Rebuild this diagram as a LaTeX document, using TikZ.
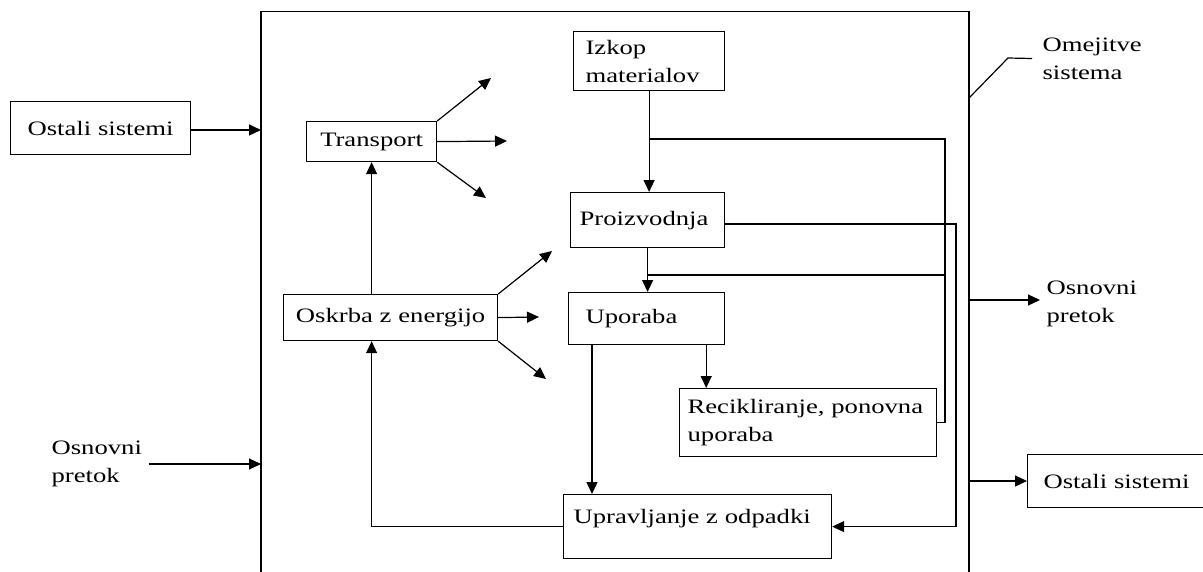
\documentclass[tikz,border=0pt]{standalone}
\usepackage{fontspec}
\setmainfont{Liberation Serif}[FakeStretch=1.3]
\usetikzlibrary{arrows.meta,calc}
\begin{document}
\begin{tikzpicture}[x=1pt,y=-1pt,
  font=\fontsize{20.5}{28}\selectfont,
  line width=1.2pt,
  arr/.style={-{Triangle[length=12pt,width=11pt]}},
  blok/.style={draw, anchor=north west, inner ysep=0pt, align=left},
  cblok/.style={blok, align=center},
  lbl/.style={anchor=west, inner sep=0pt, align=left},
]
\useasboundingbox (0,0) rectangle (1203,571);

% system boundary (open at the bottom)
\coordinate (fTL) at (261,11.7);
\coordinate (fTR) at (969,11.7);
\draw (261,572) -- (fTL) -- (fTR) -- (969,572);

% outside the system
\node[cblok, text width=170pt, inner xsep=5pt, minimum height=53pt] (osL) at (10,101) {Ostali sistemi};
\node[lbl] (osnL) at (51,464) {Osnovni\\pretok};
\node[blok, text width=168pt, inner xsep=16pt, minimum height=53pt] (osR) at (1027,454) {Ostali sistemi};
\node[lbl] (osnR) at (1046,303.5) {Osnovni\\pretok};
\node[lbl] (omej) at (1042,58.5) {Omejitve\\sistema};

% inside the system
\node[cblok, text width=124pt, inner xsep=3pt, minimum height=40pt] (transport) at (306,121) {Transport};
\node[cblok, text width=208pt, inner xsep=3pt, minimum height=46pt] (oskrba) at (283,294) {Oskrba z energijo};
\node[blok, text width=127pt, inner xsep=12pt, minimum height=59pt] (izkop) at (573,31) {Izkop\\materialov};
\node[blok, text width=136pt, inner xsep=9pt, minimum height=55pt] (proiz) at (570,192) {Proizvodnja};
\node[blok, text width=122pt, inner xsep=17pt, minimum height=52pt] (upor) at (568,292) {Uporaba};
\node[blok, text width=241pt, inner xsep=8pt, minimum height=68pt] (recik) at (679,388) {\mbox{Recikliranje, ponovna}\\uporaba};
\node[blok, text width=248pt, inner xsep=10pt, text height=29pt, text depth=35pt] (uprav) at (563,494) {\mbox{Upravljanje z odpadki}};

% points on the boundary and free arrow ends
\coordinate (inL1) at (261,130);
\coordinate (inL2) at (261,464);
\coordinate (outR1) at (969,300);
\coordinate (outR2) at (969,481);
\coordinate (bnd) at (969,98);
\coordinate (knee) at (1008,58);
\coordinate (t1) at (491,78);
\coordinate (t2) at (507,141);
\coordinate (t3) at (486,198);
\coordinate (o1) at (552,251);
\coordinate (o2) at (539,317);
\coordinate (o3) at (546,379);
\coordinate (busA) at (945,139);
\coordinate (busB) at (945,275);
\coordinate (busC) at (956,224);

% flows across the boundary
\draw[arr] (osL.east |- inL1) -- (inL1);
\draw[arr] ($(osnL.east |- inL2)+(6,0)$) -- (inL2);
\draw[arr] (outR1) -- ($(outR1 -| osnR.west)+(-6,0)$);
\draw[arr] (outR2) -- (osR.west |- outR2);
\draw (bnd) -- (knee) -- ($(omej.west)+(-10,0)$);

% transport and energy supply
\draw[arr] (transport.north east) -- (t1);
\draw[arr] (transport.east) -- (t2);
\draw[arr] (transport.south east) -- (t3);
\draw[arr] (oskrba.north east) -- (o1);
\draw[arr] (oskrba.east) -- (o2);
\draw[arr] (oskrba.south east) -- (o3);
\draw[arr] (oskrba.north -| transport.south) -- (transport.south);
\draw[arr] (uprav.west) -| (oskrba.south -| transport.south);

% material chain
\draw[arr] (izkop.south) -- (izkop.south |- proiz.north);
\draw[arr] (proiz.south) -- (proiz.south |- upor.north);
\draw (recik.east) -| (busA) -- (busA -| izkop.south);
\draw (busB -| proiz.south) -- (busB);
\draw[arr] (proiz.east |- busC) -- (busC) |- (uprav.east);
\draw[arr] ($(upor.south east)+(-19,0)$) -- ($(upor.south east |- recik.north)+(-19,0)$);
\draw[arr] ($(upor.south west)+(24,0)$) -- ($(upor.south west |- uprav.north)+(24,0)$);
\end{tikzpicture}
\end{document}
